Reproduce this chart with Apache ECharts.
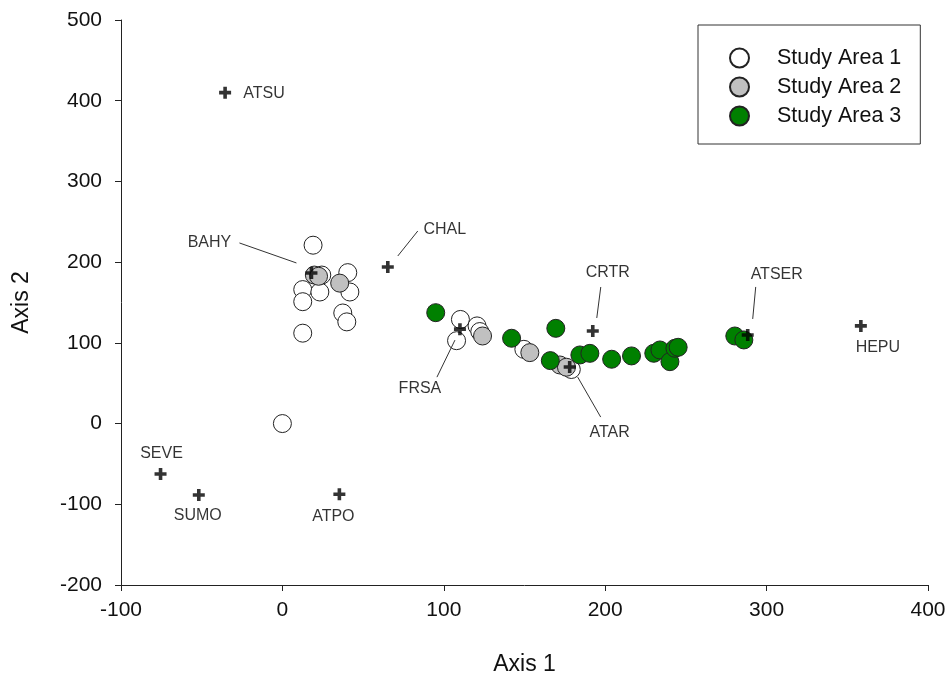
<!DOCTYPE html>
<html>
<head>
<meta charset="utf-8">
<script src="https://cdn.jsdelivr.net/npm/echarts@6/dist/echarts.min.js"></script>
<style>
  html, body { margin: 0; padding: 0; background: #fff; }
  #chart { width: 946px; height: 677px; }
</style>
</head>
<body>
<div id="chart"></div>
<script>
// Ordination scores of sampling sites (Axis 1, Axis 2) per study area
const area1 = [
  [19, 221], [12.6, 166], [12.6, 151], [23.2, 163], [24.4, 184], [40.5, 187],
  [41.8, 163], [37.4, 137], [39.9, 126], [12.6, 112], [0, 0],
  [110.3, 129], [107.9, 102.7], [120.6, 121], [122.3, 114], [149.6, 92], [179, 67]
];
const area2 = [
  [19.8, 184], [22.4, 182.5], [35.5, 174], [124, 108.5], [153.3, 87.9],
  [171.9, 72.6], [176, 69.8]
];
const area3 = [
  [95, 137.4], [142, 105.7], [169.4, 118], [166, 78], [184.3, 85], [190.5, 87],
  [204, 79.7], [216.3, 83.8], [230.1, 87.1], [233.9, 91.2], [240.1, 76.7],
  [243.2, 93.3], [245.2, 94.5], [280.3, 108.5], [285.9, 103.6]
];

// Species scores
const speciesNames = ['ATSU', 'BAHY', 'CHAL', 'FRSA', 'CRTR', 'ATAR', 'ATSER', 'HEPU', 'SEVE', 'SUMO', 'ATPO'];
const speciesX = [-35.5, 18, 65.3, 110, 192.3, 178, 288.3, 358.4, -75.5, -51.8, 35.3];
const speciesY = [410, 186.6, 194, 117, 114.7, 70, 109.8, 121, -62.5, -88.5, -87.5];

const seriesNames = ['Study Area 1', 'Study Area 2', 'Study Area 3'];

// Label placement (pixel offsets from the species marker)
const labelOffsets = {
  ATSU: [39, 1], BAHY: [-102, -30], CHAL: [57, -37], FRSA: [-40, 59],
  CRTR: [15, -58], ATAR: [40, 66], ATSER: [29, -60], HEPU: [17, 22],
  SEVE: [1, -20], SUMO: [-1, 21], ATPO: [-6, 22]
};
// Leader lines: [from offset, to offset] relative to the species marker
const leaders = {
  BAHY: [[-72, -30], [-15, -10]],
  CHAL: [[10, -11], [30, -36]],
  FRSA: [[-23, 48], [-5, 11]],
  CRTR: [[8, -44], [4, -13]],
  ATAR: [[31, 50], [8, 10]],
  ATSER: [[8, -48], [5, -16]]
};

const FONT = '"Liberation Sans", Arial, sans-serif';
const plusPath = 'path://M3.5,0H6.5V3.5H10V6.5H6.5V10H3.5V6.5H0V3.5H3.5Z';

const chart = echarts.init(document.getElementById('chart'), null, { renderer: 'canvas' });

function siteSeries(name, data, fill) {
  return {
    name: name,
    type: 'scatter',
    data: data,
    symbol: 'circle',
    symbolSize: 18,
    itemStyle: { color: fill, borderColor: '#222', borderWidth: 1, opacity: 1 },
    emphasis: { disabled: true },
    z: 2
  };
}

const axisCommon = {
  axisLine: { show: true, onZero: false, lineStyle: { color: '#222', width: 1 } },
  axisTick: { show: true, inside: false, length: 6, lineStyle: { color: '#222' } },
  splitLine: { show: false },
  nameLocation: 'middle',
  nameTextStyle: { fontFamily: FONT, fontSize: 23, color: '#111' }
};

const option = {
  animation: false,
  backgroundColor: '#fff',
  grid: {
    left: 121, right: 18, top: 20, bottom: 92,
    containLabel: false, outerBoundsMode: 'none'
  },
  xAxis: Object.assign({}, axisCommon, {
    type: 'value', min: -100, max: 400, interval: 100,
    name: 'Axis 1', nameGap: 68,
    axisLabel: { margin: 15, fontFamily: FONT, fontSize: 21, color: '#111' }
  }),
  yAxis: Object.assign({}, axisCommon, {
    type: 'value', min: -200, max: 500, interval: 100,
    name: 'Axis 2', nameGap: 88,
    axisLabel: { margin: 19, fontFamily: FONT, fontSize: 21, color: '#111' }
  }),
  legend: {
    data: seriesNames,
    orient: 'vertical',
    left: 698, top: 25,
    padding: [22, 19, 17, 31],
    itemGap: 7,
    itemWidth: 19, itemHeight: 19,
    icon: 'circle',
    borderColor: '#333', borderWidth: 1,
    backgroundColor: '#fff',
    textStyle: { fontFamily: FONT, fontSize: 21.5, color: '#111', padding: [0, 0, 0, 23] },
    selectedMode: false
  },
  series: [
    siteSeries(seriesNames[0], area1, '#ffffff'),
    siteSeries(seriesNames[1], area2, '#c0c0c0'),
    siteSeries(seriesNames[2], area3, '#008000'),
    {
      name: 'species',
      type: 'scatter',
      symbol: plusPath,
      symbolSize: 12,
      itemStyle: { color: '#000' },
      emphasis: { disabled: true },
      z: 5,
      data: speciesNames.map((n, i) => ({
        name: n,
        value: [speciesX[i], speciesY[i]],
        label: {
          show: true,
          position: 'inside',
          offset: labelOffsets[n],
          formatter: n,
          fontFamily: FONT,
          fontSize: 16,
          color: '#000'
        }
      }))
    }
  ]
};

chart.setOption(option);

// Leader lines anchored to the species markers
const leaderGraphics = [];
speciesNames.forEach((n, i) => {
  const seg = leaders[n];
  if (!seg) return;
  const p = chart.convertToPixel({ gridIndex: 0 }, [speciesX[i], speciesY[i]]);
  leaderGraphics.push({
    type: 'line',
    shape: {
      x1: p[0] + seg[0][0], y1: p[1] + seg[0][1],
      x2: p[0] + seg[1][0], y2: p[1] + seg[1][1]
    },
    style: { stroke: '#333', lineWidth: 1 },
    z: 10
  });
});
chart.setOption({ graphic: leaderGraphics });
</script>
</body>
</html>
